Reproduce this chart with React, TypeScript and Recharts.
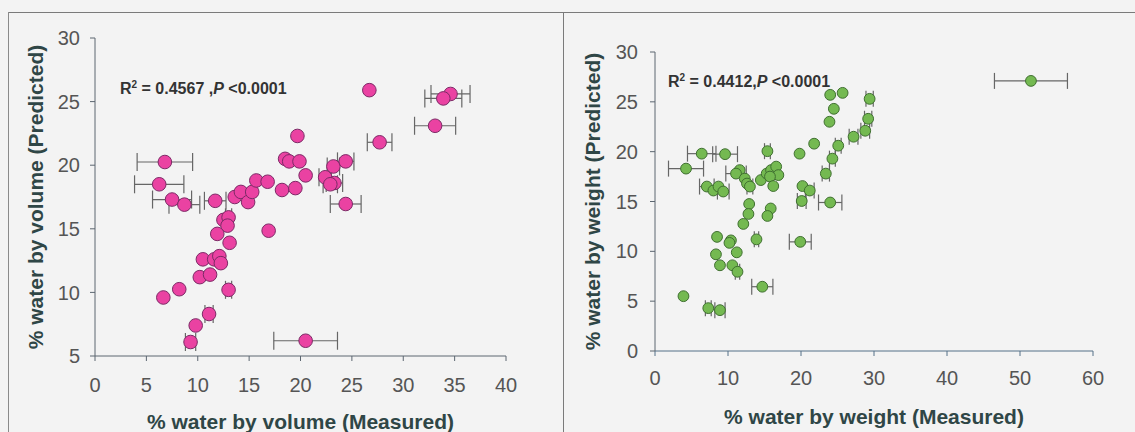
import { ScatterChart, Scatter, XAxis, YAxis, ErrorBar, Label } from 'recharts'

// % water by volume: measured vs predicted, with horizontal error (measured)
const volMeasured = [
  6.8, 6.25, 7.5, 8.7, 11.7, 13.6, 14.2, 14.9, 15.3, 15.7, 16.8, 18.2, 19.5, 18.5, 18.9, 19.9,
  20.5, 19.7, 22.4, 23.2, 23.3, 22.9, 24.4, 24.4, 26.7, 34.6, 33.9, 33.1, 27.7, 12.5, 13.0, 12.9,
  11.9, 13.1, 16.9, 10.5, 11.6, 12.1, 12.25, 10.2, 11.2, 8.2, 6.65, 13.0, 11.1, 9.8, 9.3, 20.5,
]
const volPredicted = [
  20.25, 18.5, 17.3, 16.9, 17.2, 17.5, 17.9, 17.1, 17.9, 18.8, 18.7, 18.05, 18.2, 20.5, 20.3, 20.3,
  19.2, 22.3, 19.05, 19.9, 18.6, 18.5, 20.3, 16.95, 25.9, 25.6, 25.25, 23.1, 21.8, 15.7, 15.9, 15.25,
  14.6, 13.9, 14.85, 12.6, 12.6, 12.85, 12.3, 11.2, 11.4, 10.25, 9.6, 10.2, 8.3, 7.4, 6.1, 6.2,
]
const volError = [
  2.7, 2.4, 1.9, 1.5, 1.05, 0, 0, 0, 0, 0, 0, 0, 0, 0, 0, 0,
  0, 0, 0.6, 0.6, 0.8, 0.7, 0.8, 1.5, 0, 1.9, 1.8, 2.0, 1.2, 0, 0.3, 0,
  0, 0, 0, 0, 0, 0, 0, 0, 0, 0, 0, 0.3, 0.4, 0, 0.5, 3.1,
]
const volXTicks = [0, 5, 10, 15, 20, 25, 30, 35, 40]
const volYTicks = [5, 10, 15, 20, 25, 30]

// % water by weight: measured vs predicted
const wtMeasured = [
  24.0, 25.7, 29.4, 24.5, 29.2, 23.9, 28.8, 27.2, 21.8, 25.1, 19.8, 15.4, 24.3, 23.4, 6.4, 9.6,
  4.25, 11.6, 11.1, 12.3, 12.6, 13.0, 14.5, 15.3, 15.9, 16.6, 16.9, 15.75, 16.2, 7.1, 8.0, 8.7,
  9.35, 20.2, 21.2, 20.1, 24.0, 12.9, 15.85, 12.8, 15.4, 12.1, 8.5, 10.4, 10.2, 13.9, 19.9, 8.35,
  11.2, 8.9, 10.6, 11.3, 14.7, 3.9, 7.3, 8.9, 51.5,
]
const wtPredicted = [
  25.7, 25.9, 25.3, 24.3, 23.3, 23.0, 22.1, 21.5, 20.8, 20.6, 19.8, 20.05, 19.3, 17.8, 19.8, 19.75,
  18.3, 18.15, 17.8, 17.3, 16.8, 16.5, 17.15, 17.8, 18.15, 18.5, 17.65, 17.5, 16.55, 16.5, 16.1, 16.5,
  16.0, 16.55, 16.1, 15.05, 14.9, 14.75, 14.3, 13.75, 13.55, 12.75, 11.45, 11.1, 10.85, 11.2, 10.95, 9.7,
  9.9, 8.6, 8.6, 7.95, 6.45, 5.5, 4.3, 4.1, 27.1,
]
const wtError = [
  0, 0, 0.5, 0, 0.5, 0, 0.6, 0.6, 0, 0.4, 0, 0.4, 0.4, 0.5, 1.95, 1.7,
  2.4, 0, 1.4, 0, 0, 0.4, 0, 0, 0, 0, 0, 0, 0, 1.0, 0, 0,
  0.8, 0, 0.6, 0.6, 1.6, 0, 0, 0, 0, 0, 0, 0, 0, 0.3, 1.5, 0,
  0, 0, 0, 0.3, 1.45, 0, 0.4, 0.7, 5.0,
]
const wtXTicks = [0, 10, 20, 30, 40, 50, 60]
const wtYTicks = [0, 5, 10, 15, 20, 25, 30]

const toPoints = (xs: number[], ys: number[], es: number[]) =>
  xs.map((x, i) => ({ x, y: ys[i], ex: es[i] }))

const volPoints = toPoints(volMeasured, volPredicted, volError)
const wtPoints = toPoints(wtMeasured, wtPredicted, wtError)

const FONT = '"Liberation Sans", Arial, sans-serif'
const axisStroke = '#5c6670'
const tickStyle = { fill: '#555', fontSize: 20, fontFamily: FONT }
const titleStyle = { fontSize: 21, fontWeight: 'bold', fill: '#2f4646', fontFamily: FONT }

const pinkDot = (p: any) => (
  <circle cx={p.cx} cy={p.cy} r={6.8} fill="#ea42a2" stroke="#7c2a66" strokeWidth={1} />
)
const greenDot = (p: any) => (
  <circle cx={p.cx} cy={p.cy} r={5.4} fill="#74b951" stroke="#3f6f30" strokeWidth={1} />
)

const noteStyle: React.CSSProperties = {
  position: 'absolute',
  fontSize: 16,
  fontWeight: 'bold',
  color: '#333',
  whiteSpace: 'nowrap',
  lineHeight: '18px',
  fontFamily: FONT,
}
const supStyle: React.CSSProperties = { fontSize: 10, position: 'relative', top: -6 }

export default function App() {
  return (
    <div
      style={{
        position: 'absolute',
        left: 0,
        top: 0,
        width: 1135,
        height: 432,
        background: '#f3f3f3',
        overflow: 'hidden',
        fontFamily: FONT,
      }}
    >
      {/* frame */}
      <div style={{ position: 'absolute', left: 8, top: 12, width: 1127, borderTop: '1.5px solid #7a7a7a' }} />
      <div style={{ position: 'absolute', left: 8, top: 12, height: 420, borderLeft: '1.5px solid #8a8a8a' }} />
      <div style={{ position: 'absolute', left: 563, top: 12, height: 420, borderLeft: '1.5px solid #7a7a7a' }} />

      <div style={{ position: 'absolute', left: 0, top: 0 }}>
        <ScatterChart width={564} height={432} margin={{ top: 38, right: 58, bottom: 0, left: 0 }}>
          <XAxis
            type="number"
            dataKey="x"
            domain={[0, 40]}
            ticks={volXTicks}
            interval={0}
            height={76}
            tickSize={5}
            tickMargin={17}
            axisLine={{ stroke: axisStroke }}
            tickLine={{ stroke: axisStroke }}
            tick={tickStyle}
          >
            <Label value="% water by volume (Measured)" position="insideBottom" offset={3} style={titleStyle} />
          </XAxis>
          <YAxis
            type="number"
            dataKey="y"
            domain={[5, 30]}
            ticks={volYTicks}
            interval={0}
            width={95}
            tickSize={5}
            tickMargin={10}
            axisLine={{ stroke: axisStroke }}
            tickLine={{ stroke: axisStroke }}
            tick={tickStyle}
          >
            <Label
              value="% water by volume (Predicted)"
              angle={-90}
              position="insideLeft"
              offset={36}
              style={{ ...titleStyle, textAnchor: 'middle' }}
            />
          </YAxis>
          <Scatter data={volPoints} shape={pinkDot} isAnimationActive={false}>
            <ErrorBar dataKey="ex" direction="x" width={9} stroke="#666" strokeWidth={1.2} />
          </Scatter>
        </ScatterChart>
      </div>

      <div style={{ position: 'absolute', left: 564, top: 0 }}>
        <ScatterChart width={571} height={432} margin={{ top: 52, right: 42, bottom: 0, left: 0 }}>
          <XAxis
            type="number"
            dataKey="x"
            domain={[0, 60]}
            ticks={wtXTicks}
            interval={0}
            height={81}
            tickSize={5}
            tickMargin={15}
            axisLine={{ stroke: '#557088' }}
            tickLine={{ stroke: '#557088' }}
            tick={tickStyle}
          >
            <Label value="% water by weight (Measured)" position="insideBottom" offset={8} style={titleStyle} />
          </XAxis>
          <YAxis
            type="number"
            dataKey="y"
            domain={[0, 30]}
            ticks={wtYTicks}
            interval={0}
            width={91}
            tickSize={5}
            tickMargin={12}
            axisLine={{ stroke: axisStroke }}
            tickLine={{ stroke: axisStroke }}
            tick={tickStyle}
          >
            <Label
              value="% water by weight (Predicted)"
              angle={-90}
              position="insideLeft"
              offset={29}
              style={{ ...titleStyle, textAnchor: 'middle' }}
            />
          </YAxis>
          <Scatter data={wtPoints} shape={greenDot} isAnimationActive={false}>
            <ErrorBar dataKey="ex" direction="x" width={8} stroke="#666" strokeWidth={1.2} />
          </Scatter>
        </ScatterChart>
      </div>

      <div style={{ ...noteStyle, left: 120, top: 80 }}>
        R<span style={supStyle}>2</span> = 0.4567 ,<i>P</i> &lt;0.0001
      </div>
      <div style={{ ...noteStyle, left: 668, top: 73 }}>
        R<span style={supStyle}>2</span> = 0.4412,<i>P</i> &lt;0.0001
      </div>
    </div>
  )
}
